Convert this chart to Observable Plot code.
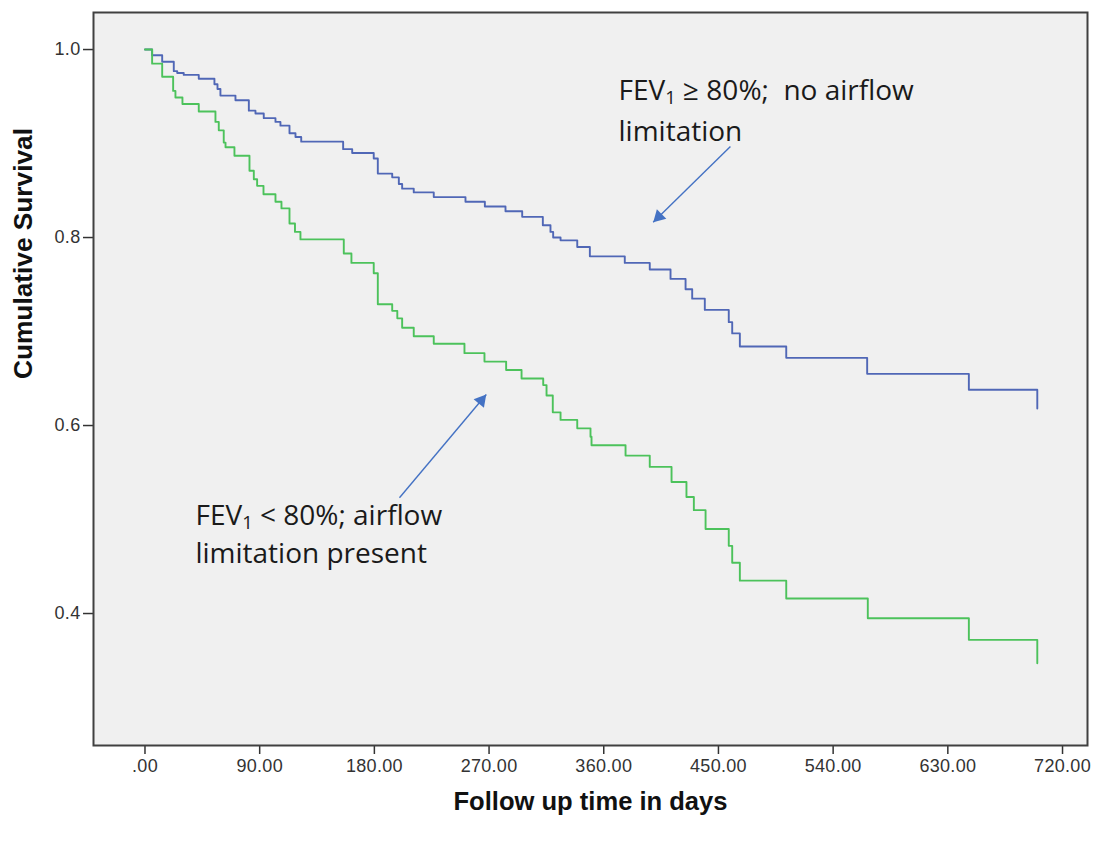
<!DOCTYPE html>
<html>
<head>
<meta charset="utf-8">
<script src="https://cdn.jsdelivr.net/npm/d3@7"></script>
<script src="https://cdn.jsdelivr.net/npm/@observablehq/plot@0.6"></script>
<style>
  html, body { margin: 0; padding: 0; background: #ffffff; }
  #chart { width: 1097px; height: 844px; }
</style>
</head>
<body>
<div id="chart"></div>
<script>
// ---- Data (days, cumulative survival) ----
const blueDays = [0, 5.6, 13.5, 22.6, 25.3, 30.4, 42.2, 54.5, 56.9, 59.2, 71.0, 81.5, 86.7, 93.2, 102.4, 106.3, 113.4, 118.1, 122.6, 155.5, 162.6, 179.5, 182.7, 194.0, 199.2, 201.8, 210.9, 226.6, 251.5, 266.7, 282.9, 296.0, 312.2, 318.2, 320.3, 326.1, 339.2, 349.1, 376.5, 396.1, 412.4, 424.2, 429.4, 439.3, 458.1, 460.8, 466.8, 503.2, 566.7, 646.5, 700.2];
const blueSurv = [1, 0.994, 0.987, 0.977, 0.975, 0.973, 0.969, 0.963, 0.958, 0.951, 0.946, 0.935, 0.932, 0.927, 0.923, 0.919, 0.911, 0.907, 0.902, 0.894, 0.890, 0.884, 0.868, 0.864, 0.857, 0.852, 0.848, 0.843, 0.838, 0.833, 0.828, 0.822, 0.813, 0.806, 0.800, 0.797, 0.790, 0.780, 0.773, 0.766, 0.756, 0.745, 0.735, 0.723, 0.710, 0.698, 0.684, 0.672, 0.655, 0.638, 0.618];

const greenDays = [0, 5.6, 13.5, 22.1, 23.9, 29.4, 42.2, 55.3, 57.9, 61.8, 63.2, 70.2, 82.0, 85.4, 88.0, 93.0, 102.4, 107.1, 113.4, 117.7, 122.0, 156.0, 162.0, 179.5, 182.7, 194.0, 198.0, 201.8, 210.9, 226.6, 250.7, 266.4, 283.4, 295.5, 312.5, 315.1, 320.0, 326.1, 339.2, 349.6, 350.4, 377.1, 396.1, 413.2, 424.9, 430.7, 439.9, 458.1, 460.8, 466.8, 503.2, 567.2, 646.5, 700.2];
const greenSurv = [1, 0.985, 0.971, 0.956, 0.949, 0.942, 0.934, 0.923, 0.914, 0.901, 0.896, 0.887, 0.871, 0.862, 0.855, 0.846, 0.838, 0.831, 0.815, 0.806, 0.798, 0.783, 0.773, 0.762, 0.729, 0.722, 0.714, 0.704, 0.695, 0.687, 0.677, 0.668, 0.659, 0.650, 0.643, 0.632, 0.614, 0.606, 0.597, 0.588, 0.579, 0.568, 0.556, 0.540, 0.524, 0.510, 0.490, 0.472, 0.454, 0.435, 0.416, 0.395, 0.372, 0.347];

const xTicks = [0, 90, 180, 270, 360, 450, 540, 630, 720];
const yTicks = [0.4, 0.6, 0.8, 1.0];

const xTitle = "Follow up time in days";
const yTitle = "Cumulative Survival";

// annotation text lines (anchored in data space)
const annoText = ["FEV\u2081 \u2265 80%;\u00a0 no airflow", "limitation", "FEV\u2081 < 80%; airflow", "limitation present"];
const annoDay = [371.6, 371.6, 39.6, 39.6];
const annoSurv = [0.9465, 0.9032, 0.4944, 0.4535];

// arrows: tail -> tip
const arrowX1 = [459.4, 199.7];
const arrowY1 = [0.8968, 0.5231];
const arrowX2 = [398.8, 267.8];
const arrowY2 = [0.8163, 0.6330];

// ---- Build tables ----
const blue = blueDays.map((d, i) => ({day: d, surv: blueSurv[i]}));
const green = greenDays.map((d, i) => ({day: d, surv: greenSurv[i]}));
const annos = annoText.map((t, i) => ({text: t, day: annoDay[i], surv: annoSurv[i]}));
const arrows = arrowX1.map((x, i) => ({x1: x, y1: arrowY1[i], x2: arrowX2[i], y2: arrowY2[i]}));

const arrowColor = "#4472c4";

const svg = Plot.plot({
  width: 1097,
  height: 844,
  marginLeft: 93,
  marginRight: 10,
  marginTop: 12,
  marginBottom: 99,
  style: {fontFamily: "'Liberation Sans', Arial, sans-serif", fontSize: "18px", color: "#333", background: "#ffffff"},
  x: {domain: [-40.4, 739.6]},
  y: {domain: [0.2596, 1.0394]},
  marks: [
    Plot.frame({fill: "#f0f0f0", stroke: "none"}),
    Plot.axisX({ticks: xTicks, tickFormat: d => d === 0 ? ".00" : d.toFixed(2), tickSize: 9, tickPadding: 5, label: null, stroke: "#333", strokeWidth: 1.5, fontSize: 18, fill: "#333"}),
    Plot.axisY({ticks: yTicks, tickFormat: d => d.toFixed(1), tickSize: 10, tickPadding: 3, label: null, stroke: "#333", strokeWidth: 1.5, fontSize: 18, fill: "#333"}),
    Plot.line(blue, {x: "day", y: "surv", curve: "step-after", stroke: "#5067b6", strokeWidth: 1.9}),
    Plot.line(green, {x: "day", y: "surv", curve: "step-after", stroke: "#4cc25b", strokeWidth: 1.9}),
    Plot.link(arrows, {x1: "x1", y1: "y1", x2: "x2", y2: "y2", stroke: arrowColor, strokeWidth: 1.4}),
    Plot.dot([arrows[0]], {x: "x2", y: "y2", symbol: "triangle", r: 5, fill: arrowColor, stroke: "none", rotate: 225.6, dx: 5.6, dy: -5.5}),
    Plot.dot([arrows[1]], {x: "x2", y: "y2", symbol: "triangle", r: 5, fill: arrowColor, stroke: "none", rotate: 40, dx: -5.0, dy: 6.0}),
    Plot.text(annos, {x: "day", y: "surv", text: "text", textAnchor: "start", lineAnchor: "bottom", fontFamily: "'Open Sans', Lato, sans-serif", fontSize: 28, fill: "#1a1a1a"}),
    Plot.frame({stroke: "#404040", strokeWidth: 2}),
    Plot.text([xTitle], {frameAnchor: "bottom", dy: 64, fontWeight: "bold", fontSize: 25, fill: "#111"}),
    Plot.text([yTitle], {frameAnchor: "left", dx: -70, rotate: -90, fontWeight: "bold", fontSize: 26, fill: "#111"})
  ]
});

// Post-process: condensed axis titles, tick label sizing and subscript digits
const tickLabels = new Set([...xTicks.map(d => d === 0 ? ".00" : d.toFixed(2)), ...yTicks.map(d => d.toFixed(1))]);
d3.select(svg).selectAll("text").each(function() {
  const s = this.textContent;
  if (s === xTitle) {
    d3.select(this).attr("textLength", 274).attr("lengthAdjust", "spacingAndGlyphs");
  } else if (s === yTitle) {
    d3.select(this).attr("textLength", 251).attr("lengthAdjust", "spacingAndGlyphs");
  } else if (tickLabels.has(s)) {
    d3.select(this).style("font-size", "18px").style("letter-spacing", "0.3px");
  } else if (s.includes("\u2081")) {
    const i = s.indexOf("\u2081");
    const el = d3.select(this);
    el.text(null);
    el.append("tspan").text(s.slice(0, i));
    el.append("tspan").text("1").attr("font-size", "0.66em").attr("dy", 4.5);
    el.append("tspan").text(s.slice(i + 1)).attr("dy", -4.5);
  }
});

document.getElementById("chart").appendChild(svg);
</script>
</body>
</html>
